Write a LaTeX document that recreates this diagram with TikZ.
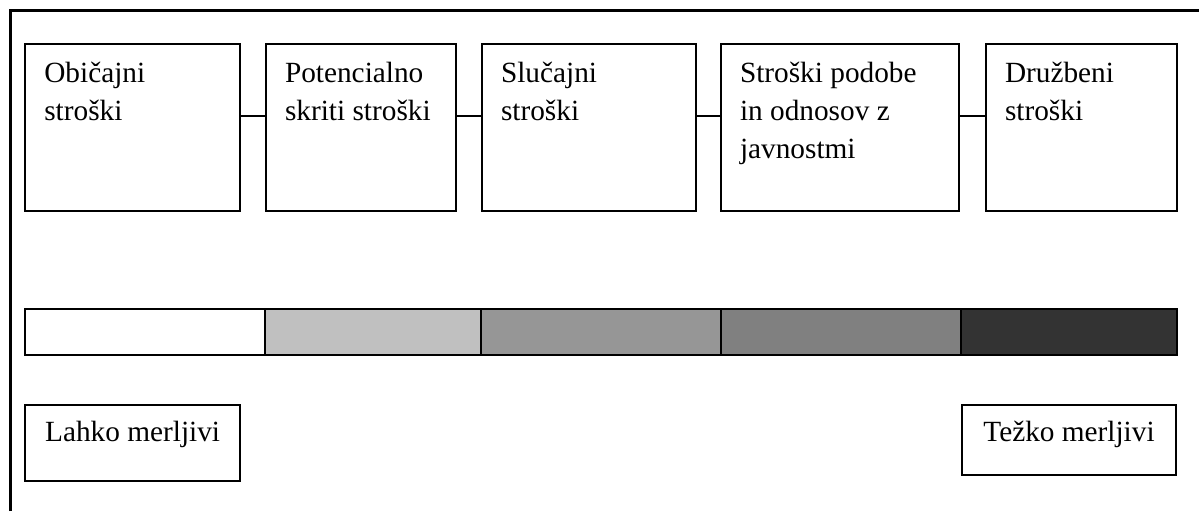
\documentclass[tikz,border=0pt]{standalone}
\usepackage{fontspec}
\setmainfont{Liberation Serif}
\usepackage{tikz}

\definecolor{grey25}{HTML}{C0C0C0}
\definecolor{grey40}{HTML}{969696}
\definecolor{grey50}{HTML}{808080}
\definecolor{grey80}{HTML}{333333}

\begin{document}
\begin{tikzpicture}[line width=1pt, font=\fontsize{14.65pt}{19.15pt}\selectfont]
 \tikzstyle{costbox}=[draw, outer sep=0pt, anchor=north west, inner xsep=9.5pt, inner ysep=0pt, align=flush left, text height=19pt, text depth=64.5pt]
 \tikzstyle{barpart}=[draw, outer sep=0pt, inner sep=0pt, minimum height=22.85pt]
 \tikzstyle{endbox}=[draw, outer sep=0pt, inner sep=0pt, minimum width=107.3pt, text height=18.35pt]
 \useasboundingbox (0,0) rectangle (599.5pt,255.5pt);

 % outer frame, cut off at the right and at the bottom
 \draw [line width=1.5pt] (5.25pt,0pt) |- (599.5pt,250.25pt);

 \node (A) at (12.65pt,233.5pt) [costbox, text width=88.35pt] {Običajni\\stroški};
 \node (B) at (133pt,233.5pt) [costbox, text width=76pt] {Potencialno\\skriti stroški};
 \node (C) at (241pt,233.5pt) [costbox, text width=88pt] {Slučajni\\stroški};
 \node (D) at (360.5pt,233.5pt) [costbox, text width=100pt] {Stroški podobe\\in odnosov z\\javnostmi};
 \node (E) at (493pt,233.5pt) [costbox, text width=76.5pt] {Družbeni\\stroški};

 \draw ([yshift=5.75pt]A.east) -- ([yshift=5.75pt]B.west);
 \draw ([yshift=5.75pt]B.east) -- ([yshift=5.75pt]C.west);
 \draw ([yshift=5.75pt]C.east) -- ([yshift=5.75pt]D.west);
 \draw ([yshift=5.75pt]D.east) -- ([yshift=5.75pt]E.west);

 % shaded scale
 \node (s1) at (72.5pt,89.4pt) [barpart, minimum width=120pt, fill=white] {};
 \node (s2) at (186.5pt,89.4pt) [barpart, minimum width=108pt, fill=grey25] {};
 \node (s3) at (300.5pt,89.4pt) [barpart, minimum width=120pt, fill=grey40] {};
 \node (s4) at (420.5pt,89.4pt) [barpart, minimum width=120pt, fill=grey50] {};
 \node (s5) at (534.5pt,89.4pt) [barpart, minimum width=108pt, fill=grey80] {};

 \node (easy) at (66.3pt,34pt) [endbox, text depth=19.65pt] {Lahko merljivi};
 \node (hard) at (534.5pt,35.575pt) [endbox, text depth=16.5pt] {Težko merljivi};

\end{tikzpicture}
\end{document}
